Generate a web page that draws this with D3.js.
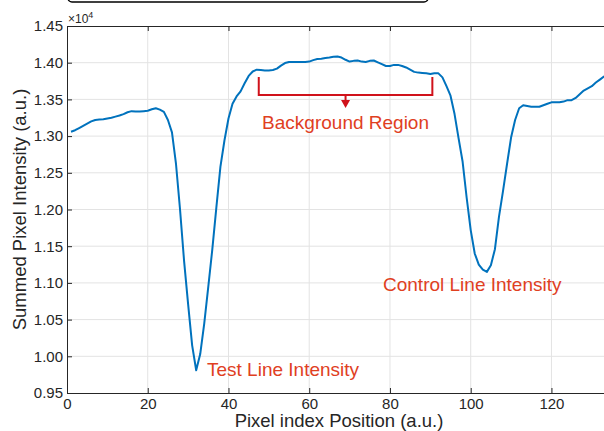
<!DOCTYPE html>
<html>
<head>
<meta charset="utf-8">
<script src="https://cdn.jsdelivr.net/npm/d3@7"></script>
<style>
	body { margin: 0; background: #fff; overflow: hidden; }
	svg { display: block; font-family: "Liberation Sans", Arial, sans-serif; }
</style>
</head>
<body>
<div id="chart"></div>
<script>
// pixel index along the strip
const pixelIndex = d3.range(1, 135);

// summed intensity per pixel column (raw counts)
const intensity = [
	13060, 13080, 13110, 13140, 13170, 13200, 13220, 13225, 13230, 13240,
	13250, 13265, 13280, 13300, 13325, 13340, 13335, 13335, 13340, 13345,
	13365, 13380, 13360, 13330, 13220, 13050, 12620, 12000, 11300, 10710,
	10150, 9810, 10030, 10450, 10950, 11460, 12030, 12580, 12940, 13240,
	13440, 13540, 13610, 13720, 13820, 13880, 13905, 13900, 13895, 13895,
	13900, 13920, 13960, 13995, 14010, 14010, 14010, 14008, 14010, 14015,
	14035, 14050, 14055, 14065, 14070, 14080, 14085, 14070, 14040, 14015,
	14025, 14030, 14015, 14010, 14025, 14030, 14005, 13980, 13955, 13955,
	13970, 13970, 13955, 13935, 13905, 13875, 13865, 13860, 13855, 13845,
	13855, 13855, 13800, 13680, 13550, 13300, 12970, 12650, 12160, 11720,
	11400, 11250, 11180, 11150, 11240, 11460, 11900, 12250, 12620, 12980,
	13220, 13380, 13420, 13410, 13400, 13400, 13400, 13420, 13440, 13460,
	13460, 13460, 13470, 13490, 13490, 13520, 13570, 13620, 13650, 13680,
	13730, 13770, 13810, 13840
];

const xTicks = [0, 20, 40, 60, 80, 100, 120];
const yTicks = [9500, 10000, 10500, 11000, 11500, 12000, 12500, 13000, 13500, 14000, 14500];

// background bracket spans these pixel indices
const bgRange = [47.5, 90.5];

function drawChart(id) {

	let width = 604, height = 431;
	let left = 67, top = 26, bottom = 393, right = 612;

	let svg = d3.select(id)
		.append("svg")
		.attr("width", width)
		.attr("height", height);

	let x = d3.scaleLinear().domain([0, 135]).range([left, right]);
	let y = d3.scaleLinear().domain([9500, 14500]).range([bottom, top]);

	// legend box cut off at the top
	svg.append("rect")
		.attr("x", 68).attr("y", -20)
		.attr("width", 360).attr("height", 22)
		.attr("rx", 4)
		.attr("fill", "none")
		.attr("stroke", "#000")
		.attr("stroke-width", 1.5);

	// grid
	svg.append("g")
		.selectAll("line")
		.data(xTicks.slice(1))
		.enter().append("line")
		.attr("x1", d => x(d)).attr("x2", d => x(d))
		.attr("y1", top).attr("y2", bottom)
		.attr("stroke", "#e3e3e3");

	svg.append("g")
		.selectAll("line")
		.data(yTicks.slice(1, -1))
		.enter().append("line")
		.attr("x1", left).attr("x2", right)
		.attr("y1", d => y(d)).attr("y2", d => y(d))
		.attr("stroke", "#e3e3e3");

	// axes (ticks pointing inward)
	let xAxis = svg.append("g")
		.attr("transform", "translate(0," + bottom + ")")
		.call(d3.axisBottom(x).tickValues(xTicks).tickSizeInner(-5).tickSizeOuter(0).tickPadding(5));

	let xTop = svg.append("g")
		.attr("transform", "translate(0," + top + ")")
		.call(d3.axisTop(x).tickValues(xTicks).tickSizeInner(-5).tickSizeOuter(0).tickFormat(""));

	let yAxis = svg.append("g")
		.attr("transform", "translate(" + left + ",0)")
		.call(d3.axisLeft(y).tickValues(yTicks).tickSizeInner(-5).tickSizeOuter(0).tickPadding(4)
			.tickFormat(d => (d / 1e4).toFixed(2)));

	[xAxis, xTop, yAxis].forEach(g => {
		g.select(".domain").attr("stroke", "#262626").attr("stroke-width", 1);
		g.selectAll(".tick line").attr("stroke", "#262626");
		g.selectAll(".tick text")
			.attr("fill", "#262626")
			.style("font-size", "15px");
	});
	xAxis.selectAll(".tick line").filter(d => d == 0).remove();
	xTop.selectAll(".tick line").filter(d => d == 0).remove();

	// exponent label
	let expo = svg.append("text")
		.attr("x", 68).attr("y", 23)
		.attr("fill", "#262626")
		.style("font-size", "12px")
		.text("\u00d710");
	expo.append("tspan")
		.attr("dy", -5)
		.style("font-size", "9px")
		.text("4");

	// axis titles
	svg.append("text")
		.attr("x", 339).attr("y", 427)
		.attr("text-anchor", "middle")
		.attr("fill", "#262626")
		.style("font-size", "18.5px")
		.text("Pixel index Position (a.u.)");

	svg.append("text")
		.attr("transform", "translate(26," + ((top + bottom) / 2) + ") rotate(-90)")
		.attr("text-anchor", "middle")
		.attr("fill", "#262626")
		.style("font-size", "18.5px")
		.text("Summed Pixel Intensity (a.u.)");

	// profile line
	let line = d3.line()
		.x((d, i) => x(pixelIndex[i]))
		.y(d => y(d));

	svg.append("path")
		.datum(intensity)
		.attr("d", line)
		.attr("fill", "none")
		.attr("stroke", "#0072bd")
		.attr("stroke-width", 2)
		.attr("stroke-linejoin", "round");

	// background region bracket
	let bx0 = x(bgRange[0]), bx1 = x(bgRange[1]);
	let mid = (bx0 + bx1) / 2;
	svg.append("path")
		.attr("d", "M" + bx0 + ",77V95H" + bx1 + "V77")
		.attr("fill", "none")
		.attr("stroke", "#d0121b")
		.attr("stroke-width", 2);
	svg.append("line")
		.attr("x1", mid).attr("x2", mid)
		.attr("y1", 95).attr("y2", 101)
		.attr("stroke", "#d0121b")
		.attr("stroke-width", 2);
	svg.append("path")
		.attr("d", "M" + (mid - 4.5) + ",100L" + (mid + 4.5) + ",100L" + mid + ",108Z")
		.attr("fill", "#d0121b");

	let notes = [
		{ text: "Background Region", x: mid, y: 129, anchor: "middle" },
		{ text: "Test Line Intensity", x: 207, y: 376, anchor: "start" },
		{ text: "Control Line Intensity", x: 383, y: 291, anchor: "start" }
	];
	svg.selectAll(".note")
		.data(notes)
		.enter().append("text")
		.attr("class", "note")
		.attr("x", d => d.x).attr("y", d => d.y)
		.attr("text-anchor", d => d.anchor)
		.attr("fill", "#e0401f")
		.style("font-size", "19px")
		.text(d => d.text);
}

drawChart("#chart");
</script>
</body>
</html>
